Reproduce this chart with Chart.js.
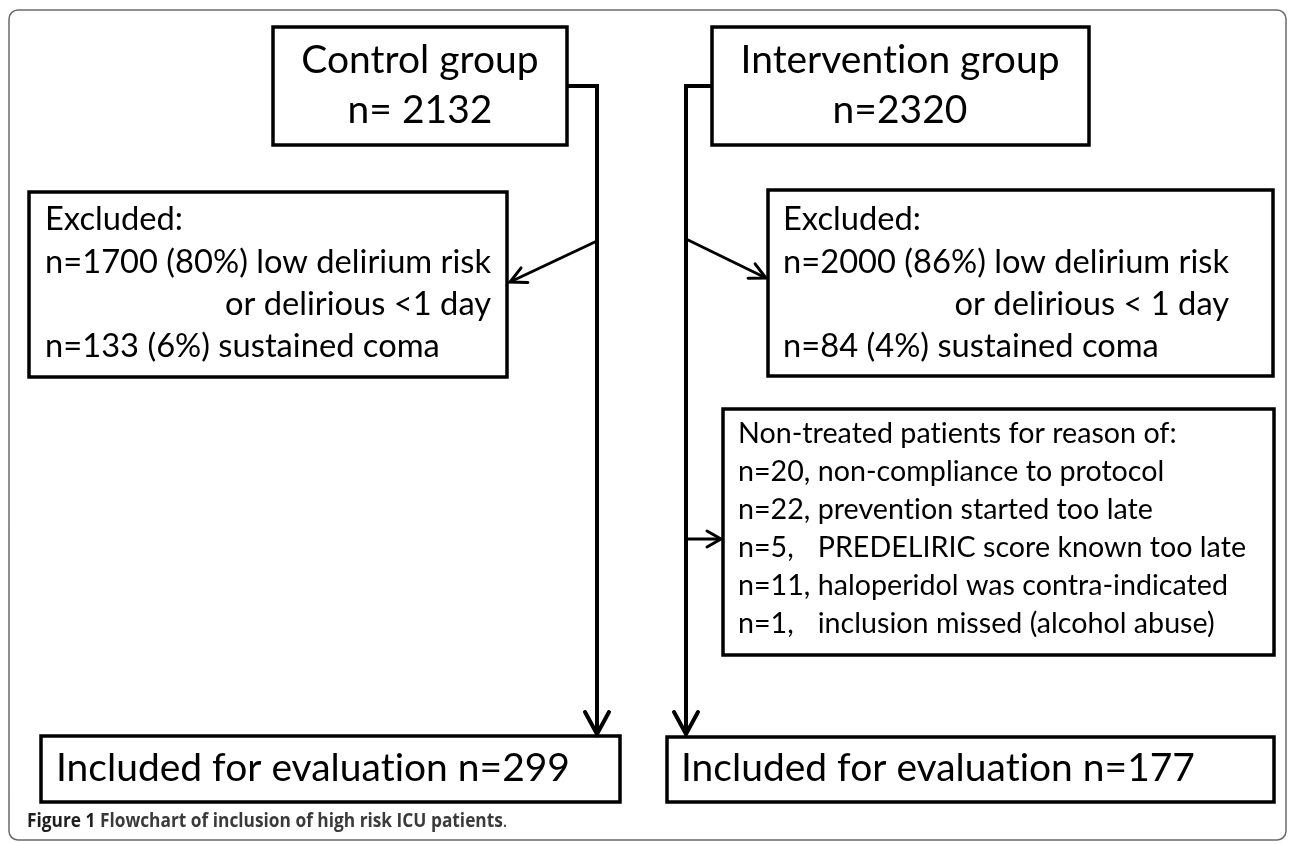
<!DOCTYPE html>
<html><head><meta charset="utf-8">
<script src="https://cdn.jsdelivr.net/npm/chart.js@4.4.1/dist/chart.umd.min.js"></script>
<style>html,body{margin:0;padding:0;background:#fff;}#wrap{width:1290px;height:844px;position:relative;}</style>
</head><body><div id="wrap"><canvas id="c" width="1290" height="844"></canvas></div>
<script>
// ---- data ----
const groupNames = ['Control group', 'Intervention group'];
const groupTotals = [2132, 2320];
const totalPrefixes = ['n= ', 'n='];
const excludedTitle = 'Excluded:';
const lowRiskCounts = [1700, 2000];
const lowRiskPercents = [80, 86];
const lowRiskLabel = 'low delirium risk';
const deliriousLabels = ['or delirious <1 day', 'or delirious < 1 day'];
const comaCounts = [133, 84];
const comaPercents = [6, 4];
const comaLabel = 'sustained coma';
const nonTreatedTitle = 'Non-treated patients for reason of:';
const nonTreatedCounts = [20, 22, 5, 11, 1];
const nonTreatedReasons = ['non-compliance to protocol', 'prevention started too late', 'PREDELIRIC score known too late', 'haloperidol was contra-indicated', 'inclusion missed (alcohol abuse)'];
const includedLabel = 'Included for evaluation';
const includedCounts = [299, 177];
const captionLabel = 'Figure 1';
const captionText = 'Flowchart of inclusion of high risk ICU patients';

const FONT = 'Lato, "Open Sans", sans-serif';

function fitSize(ctx, text, weight, family, target) {
  ctx.font = weight + ' 100px ' + family;
  return 100 * target / ctx.measureText(text).width;
}

const flowPlugin = {
  id: 'flow',
  afterDraw(chart) {
    const ctx = chart.ctx;
    const sx = chart.scales.x, sy = chart.scales.y;
    const X = v => sx.getPixelForValue(v);
    const Y = v => sy.getPixelForValue(v);
    ctx.save();
    try { ctx.letterSpacing = '0.01px'; } catch (e) {}
    // outer frame
    ctx.strokeStyle = '#6a6a6a';
    ctx.lineWidth = 1.5;
    ctx.beginPath();
    ctx.roundRect(X(9), Y(10), X(1286) - X(9), Y(840) - Y(10), 9);
    ctx.stroke();

    ctx.strokeStyle = '#000';
    ctx.lineJoin = 'miter';
    function box(x0, y0, x1, y1) {
      ctx.lineWidth = 3.5;
      ctx.strokeRect(X(x0), Y(y0), X(x1) - X(x0), Y(y1) - Y(y0));
    }
    function poly(pts, lw) {
      ctx.lineWidth = lw;
      ctx.beginPath();
      pts.forEach((p, i) => i ? ctx.lineTo(X(p[0]), Y(p[1])) : ctx.moveTo(X(p[0]), Y(p[1])));
      ctx.stroke();
    }
    function head(fx, fy, tx, ty, len, half, lw) {
      const a = Math.atan2(Y(ty) - Y(fy), X(tx) - X(fx));
      const px = X(tx), py = Y(ty);
      const bx = px - len * Math.cos(a), by = py - len * Math.sin(a);
      const nx = -Math.sin(a) * half, ny = Math.cos(a) * half;
      ctx.lineWidth = lw;
      ctx.lineCap = 'round';
      ctx.beginPath();
      ctx.moveTo(bx + nx, by + ny); ctx.lineTo(px, py); ctx.lineTo(bx - nx, by - ny);
      ctx.stroke();
      ctx.lineCap = 'butt';
    }

    // boxes
    box(273, 27, 567, 145);
    box(712, 27, 1089, 145);
    box(29, 192, 507, 377);
    box(768, 190, 1273, 376);
    box(723, 409, 1274, 655);
    box(41, 736, 620, 802);
    box(667, 737, 1274, 802);

    // trunks
    poly([[567, 86], [597, 86], [597, 730]], 4);
    head(597, 700, 597, 734, 22, 12, 4);
    poly([[712, 86], [686, 86], [686, 730]], 4);
    head(686, 700, 686, 734, 22, 12, 4);

    // side arrows
    poly([[597, 241], [510, 282]], 3);
    head(597, 241, 510, 282, 16, 8, 3);
    poly([[686, 239], [766, 278]], 3);
    head(686, 239, 766, 278, 16, 8, 3);
    poly([[686, 539], [721, 539]], 3);
    head(686, 539, 721, 539, 14, 8, 3);

    // ---- text ----
    ctx.fillStyle = '#000';
    ctx.textBaseline = 'alphabetic';
    // top boxes
    const sTop = fitSize(ctx, groupNames[1], '400', FONT, 319);
    ctx.font = '400 ' + sTop + 'px ' + FONT;
    ctx.textAlign = 'center';
    const topCx = [420, 900];
    groupNames.forEach((g, i) => {
      ctx.fillText(g, X(topCx[i]), Y(73));
      ctx.fillText(totalPrefixes[i] + groupTotals[i], X(topCx[i]), Y(123));
    });

    // excluded boxes
    const exLines = [0, 1].map(i => [
      excludedTitle,
      'n=' + lowRiskCounts[i] + ' (' + lowRiskPercents[i] + '%) ' + lowRiskLabel,
      deliriousLabels[i],
      'n=' + comaCounts[i] + ' (' + comaPercents[i] + '%) ' + comaLabel
    ]);
    const sEx = fitSize(ctx, exLines[0][1], '400', FONT, 446);
    ctx.font = '400 ' + sEx + 'px ' + FONT;
    const exX = [45, 783];
    const exBase = [230, 273, 315, 357];
    exLines.forEach((lines, i) => {
      const w2 = ctx.measureText(lines[1]).width;
      lines.forEach((t, j) => {
        if (j === 2) {
          ctx.textAlign = 'right';
          ctx.fillText(t, X(exX[i]) + w2, Y(exBase[j]));
        } else {
          ctx.textAlign = 'left';
          ctx.fillText(t, X(exX[i]), Y(exBase[j]));
        }
      });
    });

    // non-treated box
    ctx.font = '400 100px ' + FONT;
    const cw100 = Math.max(...nonTreatedCounts.map(n => ctx.measureText('n=' + n + ', ').width));
    const rw100 = Math.max(...nonTreatedReasons.map(r => ctx.measureText(r).width));
    const sNt = 100 * 508 / (cw100 + rw100);
    ctx.font = '400 ' + sNt + 'px ' + FONT;
    ctx.textAlign = 'left';
    ctx.fillText(nonTreatedTitle, X(738), Y(443));
    const colW = cw100 * sNt / 100;
    nonTreatedCounts.forEach((n, i) => {
      const yb = Y(481 + 38 * i);
      ctx.fillText('n=' + n + ',', X(738), yb);
      ctx.fillText(nonTreatedReasons[i], X(738) + colW, yb);
    });

    // included boxes
    const incTexts = includedCounts.map(n => includedLabel + ' n=' + n);
    const sInc = fitSize(ctx, incTexts[0], '400', FONT, 514);
    ctx.font = '400 ' + sInc + 'px ' + FONT;
    const incX = [56, 681];
    incTexts.forEach((t, i) => ctx.fillText(t, X(incX[i]), Y(781)));

    // caption (slightly condensed to mimic the original typeface)
    try { ctx.letterSpacing = '0px'; } catch (e) {}
    const CF = '"Open Sans", sans-serif';
    const squeeze = 0.86;
    const full = captionLabel + ' ' + captionText + '.';
    const sCap = fitSize(ctx, full, '700', CF, 481 / squeeze);
    ctx.save();
    ctx.translate(X(27), Y(827));
    ctx.scale(squeeze, 1);
    ctx.font = '700 ' + sCap + 'px ' + CF;
    ctx.fillStyle = '#1e1e1e';
    let cx = 0;
    ctx.fillText(captionLabel + ' ', cx, 0);
    cx += ctx.measureText(captionLabel + ' ').width;
    ctx.fillStyle = '#3a3a3a';
    ctx.fillText(captionText, cx, 0);
    cx += ctx.measureText(captionText).width;
    ctx.font = '400 ' + sCap + 'px ' + CF;
    ctx.fillText('.', cx, 0);
    ctx.restore();
    ctx.restore();
  }
};

new Chart(document.getElementById('c'), {
  type: 'scatter',
  data: { datasets: [{ label: 'flow', data: [], pointRadius: 0 }] },
  options: {
    responsive: false,
    animation: false,
    events: [],
    layout: { padding: 0 },
    plugins: { legend: { display: false }, tooltip: { enabled: false } },
    scales: {
      x: { type: 'linear', min: 0, max: 1290, display: false },
      y: { type: 'linear', min: 0, max: 844, reverse: true, display: false }
    }
  },
  plugins: [flowPlugin]
});
</script>
</body></html>
